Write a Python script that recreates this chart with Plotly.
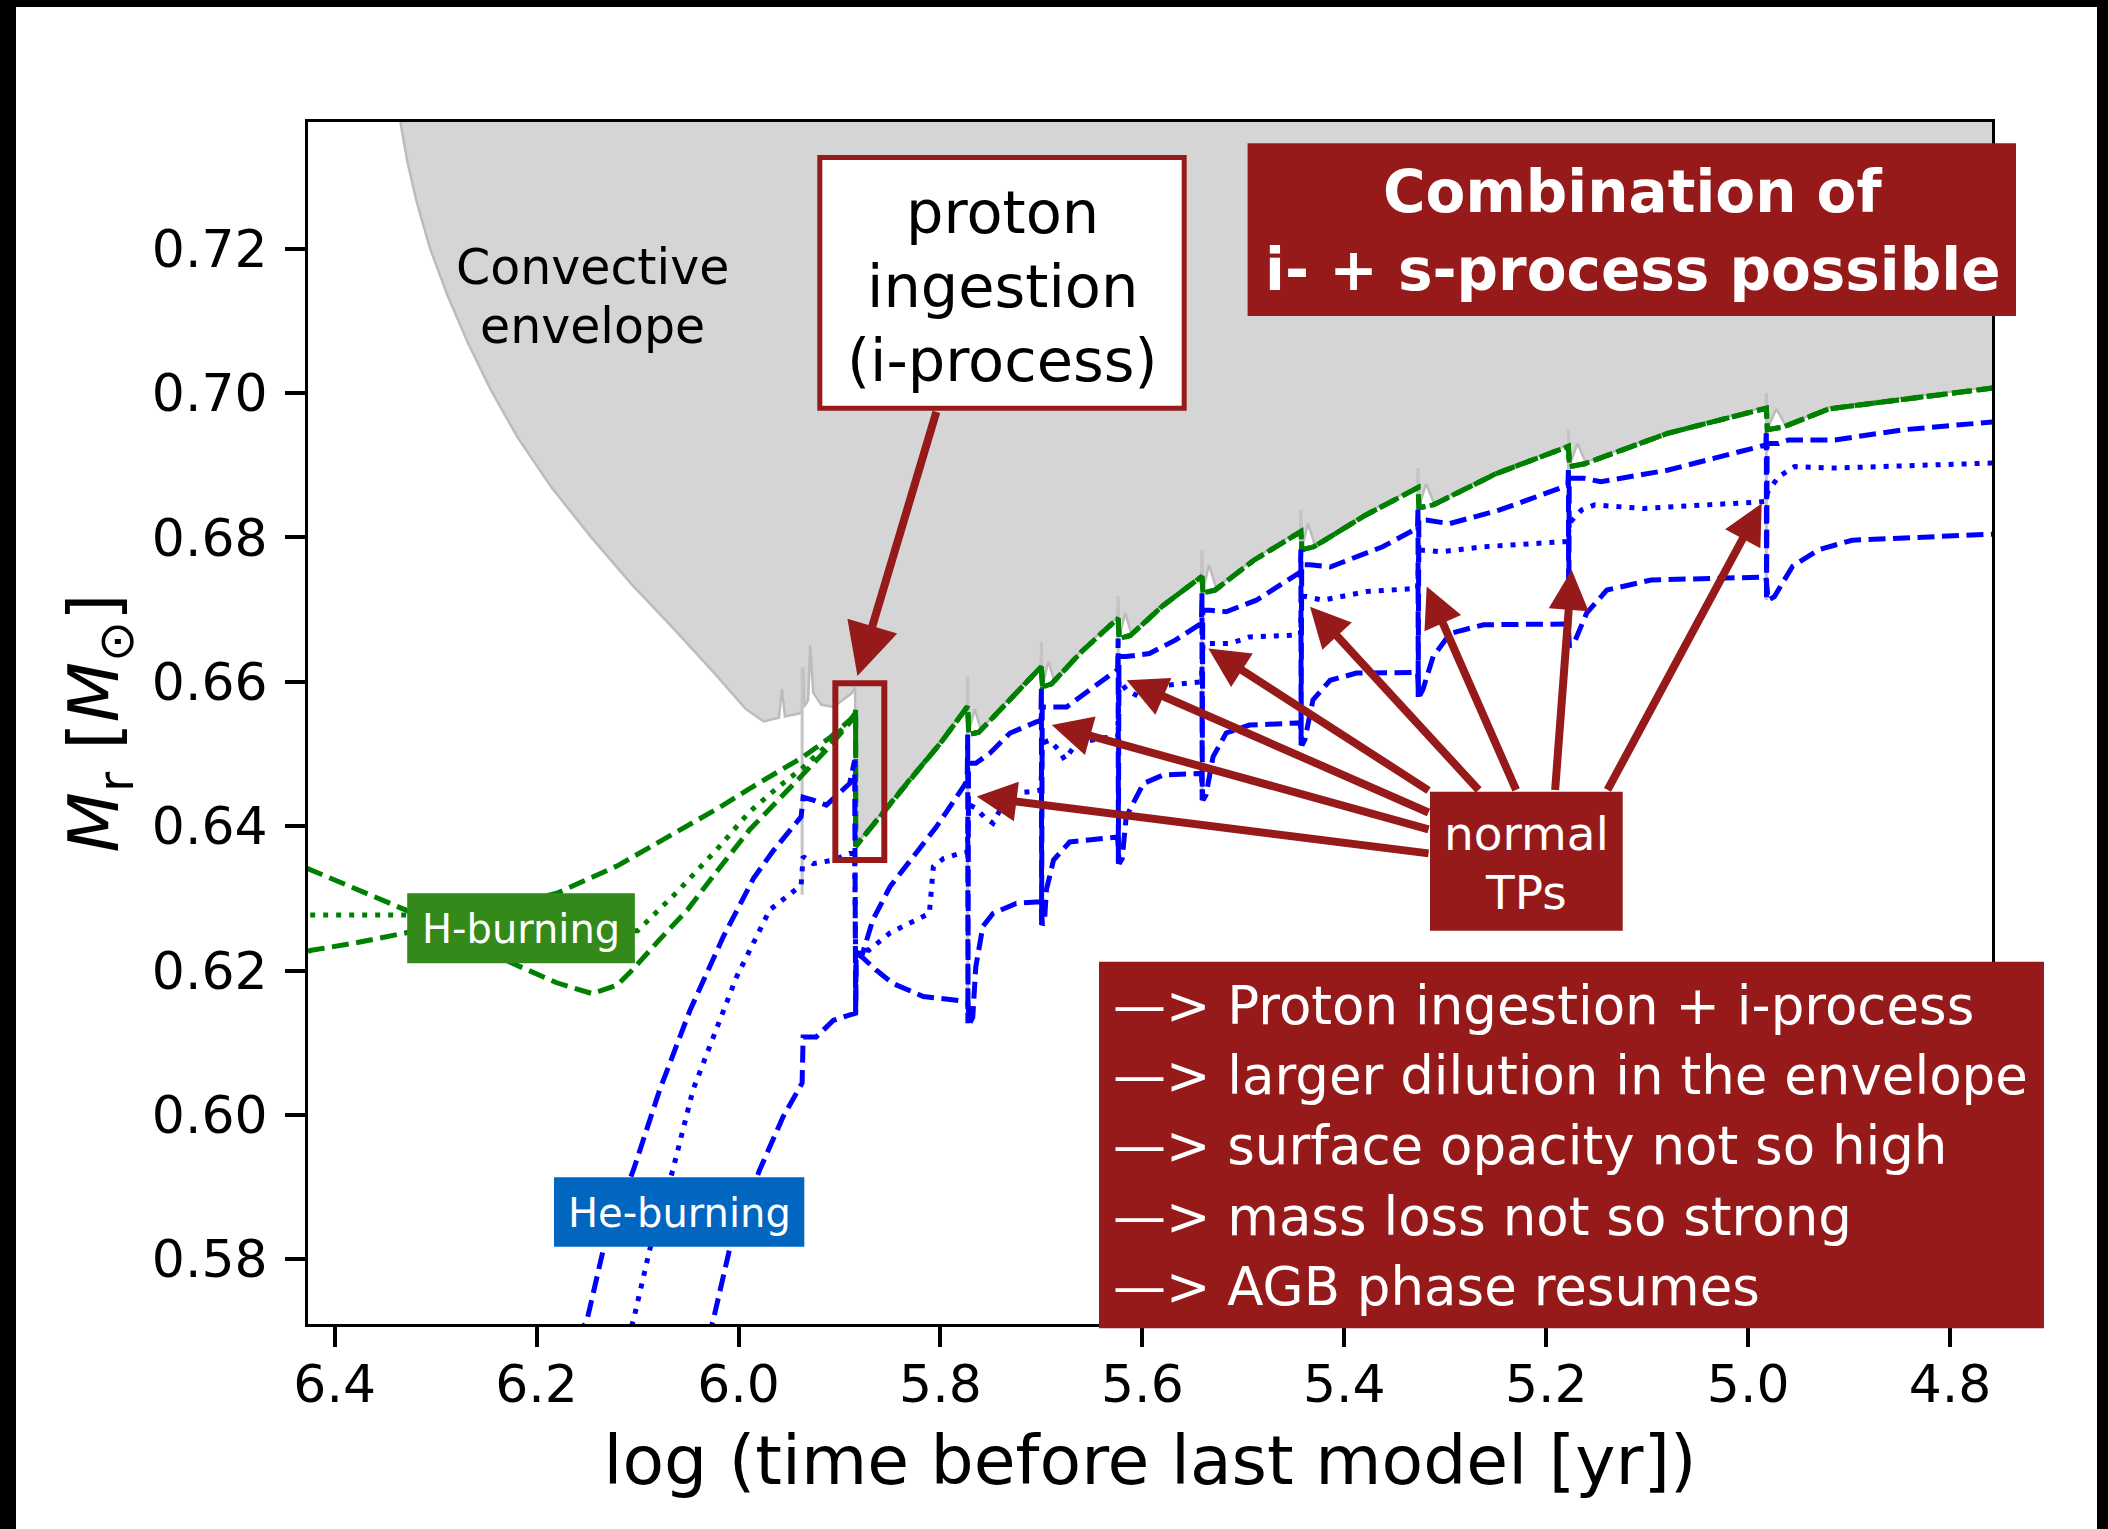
import plotly.graph_objects as go

# ---------------- data ----------------
# convective envelope lower boundary
ENV_X = [6.340, 6.3348, 6.3281, 6.3188, 6.3055, 6.2882, 6.2682, 6.2456, 6.2190, 6.1857,
         6.1458, 6.1058, 6.0659, 6.0260, 5.9927, 5.975, 5.960, 5.957, 5.954, 5.940,
         5.937, 5.936, 5.935, 5.931, 5.929, 5.926, 5.918, 5.906, 5.888, 5.8845,
         5.884, 5.830, 5.800, 5.7735, 5.773, 5.772, 5.766, 5.760, 5.730, 5.7005,
         5.700, 5.699, 5.693, 5.687, 5.660, 5.6245, 5.624, 5.623, 5.617, 5.611,
         5.580, 5.5415, 5.541, 5.540, 5.534, 5.527, 5.490, 5.4435, 5.443, 5.442,
         5.436, 5.429, 5.380, 5.3275, 5.327, 5.326, 5.319, 5.311, 5.250, 5.1785,
         5.178, 5.177, 5.169, 5.161, 5.080, 4.9825, 4.982, 4.981, 4.972, 4.963,
         4.920, 4.840, 4.757, 4.700]
ENV_Y = [0.7500, 0.7375, 0.7321, 0.7265, 0.7200, 0.7135, 0.7070, 0.7005, 0.6939, 0.6870,
         0.6800, 0.6735, 0.6676, 0.6615, 0.6562, 0.6545, 0.6550, 0.6590, 0.6552, 0.6556,
         0.6560, 0.6620, 0.6565, 0.6575, 0.6650, 0.6585, 0.6568, 0.6565, 0.6584, 0.6592,
         0.6374, 0.6467, 0.6517, 0.6568, 0.6607, 0.6530, 0.6562, 0.6534, 0.6580, 0.6623,
         0.6655, 0.6595, 0.6628, 0.6600, 0.6644, 0.6690, 0.6718, 0.6662, 0.6695, 0.6667,
         0.6707, 0.6748, 0.6782, 0.6725, 0.6762, 0.6730, 0.6770, 0.6810, 0.6838, 0.6785,
         0.6819, 0.6789, 0.6832, 0.6871, 0.6896, 0.6843, 0.6874, 0.6847, 0.6890, 0.6928,
         0.6949, 0.6900, 0.6930, 0.6904, 0.6946, 0.6981, 0.7000, 0.6951, 0.6978, 0.6955,
         0.6980, 0.6995, 0.7009, 0.7018]

# intershell convective zones at the pulses (grey vertical streaks)
PULSE_X = [5.937, 5.773, 5.700, 5.624, 5.541, 5.443, 5.327, 5.178, 4.982]
PULSE_TOP = [0.6620, 0.6607, 0.6655, 0.6718, 0.6782, 0.6838, 0.6896, 0.6949, 0.7000]
PULSE_BOT = [0.6305, 0.6127, 0.6263, 0.6348, 0.6436, 0.6512, 0.6579, 0.6649, 0.6713]

# H-burning shell (before proton ingestion, three lines)
HA_X = [6.450, 6.423, 6.380, 6.330, 6.280, 6.230, 6.180, 6.120, 6.056, 6.020,
        5.989, 5.960, 5.937, 5.910, 5.889, 5.8845, 5.884]
HA_Y = [0.6218, 0.6228, 0.6238, 0.6252, 0.6270, 0.6288, 0.6307, 0.6345, 0.6395, 0.6425,
        0.6452, 0.6475, 0.6495, 0.6522, 0.6548, 0.6556, 0.6561]
HB_X = [6.450, 6.423, 6.380, 6.330, 6.280, 6.220, 6.160, 6.100, 6.060, 6.020,
        5.989, 5.960, 5.937, 5.910, 5.889, 5.8845, 5.884]
HB_Y = [0.6277, 0.6277, 0.6277, 0.6277, 0.6272, 0.6265, 0.6258, 0.6255, 0.6310, 0.6370,
        0.6420, 0.6455, 0.6480, 0.6515, 0.6546, 0.6555, 0.6561]
HC_X = [6.450, 6.423, 6.380, 6.330, 6.280, 6.224, 6.180, 6.145, 6.120, 6.105,
        6.080, 6.050, 6.020, 5.989, 5.960, 5.937, 5.910, 5.889, 5.8845, 5.884]
HC_Y = [0.6355, 0.6339, 0.6312, 0.6284, 0.6248, 0.6210, 0.6183, 0.6168, 0.6180, 0.6201,
        0.6240, 0.6285, 0.6340, 0.6395, 0.6437, 0.6470, 0.6510, 0.6545, 0.6555, 0.6561]
# H-burning shell after proton ingestion (all three lines coincide)
HPOST_X = [5.884, 5.830, 5.800, 5.773, 5.772, 5.762, 5.730, 5.700, 5.699, 5.690,
           5.660, 5.624, 5.623, 5.612, 5.580, 5.541, 5.540, 5.528, 5.490, 5.443,
           5.442, 5.430, 5.380, 5.327, 5.326, 5.312, 5.250, 5.178, 5.177, 5.162,
           5.080, 4.982, 4.981, 4.965, 4.920, 4.840, 4.757, 4.700]
HPOST_Y = [0.6372, 0.6465, 0.6515, 0.6566, 0.6527, 0.6530, 0.6578, 0.6621, 0.6593, 0.6597,
           0.6642, 0.6688, 0.6660, 0.6664, 0.6705, 0.6746, 0.6723, 0.6727, 0.6768, 0.6808,
           0.6783, 0.6787, 0.6830, 0.6869, 0.6841, 0.6845, 0.6888, 0.6926, 0.6898, 0.6902,
           0.6944, 0.6979, 0.6949, 0.6953, 0.6978, 0.6993, 0.7007, 0.7015]

# He-burning shell (three lines)
HE_TOP_X = [6.160, 6.150, 6.134, 6.104, 6.078, 6.048, 6.015, 5.985, 5.966, 5.938,
            5.936, 5.926, 5.913, 5.890, 5.885, 5.884, 5.8835, 5.877, 5.867, 5.850,
            5.830, 5.804, 5.777, 5.7735, 5.773, 5.7728, 5.7722, 5.765, 5.751, 5.731,
            5.711, 5.7005, 5.700, 5.6998, 5.6992, 5.695, 5.675, 5.652, 5.629, 5.6245,
            5.624, 5.6238, 5.6232, 5.616, 5.593, 5.567, 5.547, 5.5415, 5.541, 5.5408,
            5.5402, 5.533, 5.517, 5.487, 5.447, 5.4435, 5.443, 5.4428, 5.4422, 5.434,
            5.414, 5.362, 5.333, 5.3275, 5.327, 5.3268, 5.3262, 5.319, 5.296, 5.246,
            5.183, 5.1785, 5.178, 5.1778, 5.1772, 5.163, 5.146, 5.080, 4.987, 4.9825,
            4.982, 4.9818, 4.9812, 4.970, 4.960, 4.914, 4.847, 4.757, 4.700]
HE_TOP_Y = [0.5690, 0.5716, 0.5813, 0.5924, 0.6035, 0.6145, 0.6247, 0.6328, 0.6365, 0.6413,
            0.6440, 0.6436, 0.6429, 0.6459, 0.6491, 0.6141, 0.6224, 0.6224, 0.6270, 0.6316,
            0.6353, 0.6399, 0.6455, 0.6464, 0.6527, 0.6127, 0.6487, 0.6487, 0.6501, 0.6529,
            0.6542, 0.6547, 0.6593, 0.6263, 0.6565, 0.6565, 0.6565, 0.6589, 0.6612, 0.6617,
            0.6660, 0.6348, 0.6635, 0.6635, 0.6639, 0.6658, 0.6676, 0.6681, 0.6723, 0.6436,
            0.6699, 0.6699, 0.6697, 0.6713, 0.6750, 0.6752, 0.6783, 0.6512, 0.6762, 0.6762,
            0.6759, 0.6787, 0.6810, 0.6813, 0.6841, 0.6579, 0.6824, 0.6824, 0.6819, 0.6838,
            0.6870, 0.6872, 0.6898, 0.6649, 0.6882, 0.6882, 0.6877, 0.6893, 0.6926, 0.6928,
            0.6949, 0.6713, 0.6930, 0.6930, 0.6935, 0.6935, 0.6949, 0.6960, 0.6966]
HE_MID_X = [6.110, 6.104, 6.088, 6.065, 6.045, 6.025, 6.002, 5.969, 5.949, 5.938,
            5.936, 5.926, 5.906, 5.890, 5.885, 5.884, 5.879, 5.871, 5.850, 5.811,
            5.807, 5.797, 5.781, 5.7735, 5.772, 5.765, 5.757, 5.748, 5.740, 5.731,
            5.708, 5.7005, 5.699, 5.692, 5.682, 5.677, 5.665, 5.640, 5.6245, 5.623,
            5.616, 5.603, 5.576, 5.547, 5.5415, 5.540, 5.533, 5.513, 5.494, 5.447,
            5.4435, 5.442, 5.438, 5.421, 5.378, 5.332, 5.3275, 5.326, 5.319, 5.305,
            5.262, 5.183, 5.1785, 5.177, 5.165, 5.152, 5.104, 4.990, 4.9825, 4.981,
            4.970, 4.954, 4.914, 4.757, 4.700]
HE_MID_Y = [0.5690, 0.5716, 0.5813, 0.5924, 0.6035, 0.6108, 0.6191, 0.6284, 0.6307, 0.6318,
            0.6358, 0.6348, 0.6353, 0.6362, 0.6362, 0.6224, 0.6230, 0.6228, 0.6252, 0.6279,
            0.6344, 0.6355, 0.6362, 0.6364, 0.6430, 0.6425, 0.6413, 0.6404, 0.6425, 0.6445,
            0.6448, 0.6450, 0.6515, 0.6519, 0.6504, 0.6492, 0.6515, 0.6522, 0.6524, 0.6602,
            0.6589, 0.6579, 0.6595, 0.6598, 0.6600, 0.6653, 0.6653, 0.6653, 0.6662, 0.6665,
            0.6665, 0.6718, 0.6718, 0.6713, 0.6725, 0.6729, 0.6729, 0.6782, 0.6782, 0.6780,
            0.6787, 0.6794, 0.6794, 0.6820, 0.6838, 0.6845, 0.6840, 0.6849, 0.6850, 0.6862,
            0.6884, 0.6898, 0.6896, 0.6903, 0.6904]
HE_BOT_X = [6.030, 6.025, 6.009, 5.979, 5.956, 5.937, 5.936, 5.923, 5.906, 5.886,
            5.884, 5.8835, 5.878, 5.864, 5.847, 5.817, 5.777, 5.773, 5.771, 5.768,
            5.765, 5.758, 5.748, 5.725, 5.705, 5.7005, 5.699, 5.697, 5.695, 5.688,
            5.672, 5.632, 5.6245, 5.623, 5.620, 5.616, 5.599, 5.579, 5.543, 5.5415,
            5.540, 5.537, 5.530, 5.517, 5.494, 5.447, 5.4435, 5.442, 5.439, 5.431,
            5.414, 5.388, 5.329, 5.3275, 5.326, 5.322, 5.312, 5.295, 5.262, 5.180,
            5.1785, 5.177, 5.172, 5.160, 5.140, 5.096, 4.983, 4.9825, 4.980, 4.974,
            4.956, 4.930, 4.897, 4.757, 4.700]
HE_BOT_Y = [0.5690, 0.5716, 0.5813, 0.5924, 0.5997, 0.6044, 0.6108, 0.6108, 0.6131, 0.6141,
            0.6141, 0.6224, 0.6219, 0.6201, 0.6182, 0.6164, 0.6157, 0.6157, 0.6127, 0.6135,
            0.6205, 0.6261, 0.6279, 0.6293, 0.6295, 0.6295, 0.6263, 0.6268, 0.6312, 0.6353,
            0.6378, 0.6385, 0.6385, 0.6348, 0.6355, 0.6413, 0.6459, 0.6471, 0.6473, 0.6473,
            0.6436, 0.6443, 0.6496, 0.6529, 0.6540, 0.6543, 0.6543, 0.6512, 0.6520, 0.6575,
            0.6602, 0.6612, 0.6613, 0.6613, 0.6579, 0.6590, 0.6635, 0.6667, 0.6679, 0.6680,
            0.6680, 0.6649, 0.6655, 0.6695, 0.6727, 0.6741, 0.6745, 0.6745, 0.6713, 0.6718,
            0.6760, 0.6783, 0.6796, 0.6806, 0.6808]

X_TICKS = [6.4, 6.2, 6.0, 5.8, 5.6, 5.4, 5.2, 5.0, 4.8]
Y_TICKS = [0.58, 0.60, 0.62, 0.64, 0.66, 0.68, 0.70, 0.72]

# "normal TPs" arrows: tips at the pulses, tails at the label box
TP_ARROW_TIP_X = [5.7641, 5.6898, 5.6155, 5.5347, 5.4340, 5.3184, 5.1748, 4.9866]
TP_ARROW_TIP_Y = [0.6441, 0.6540, 0.6602, 0.6646, 0.6704, 0.6732, 0.6755, 0.6847]
TP_ARROW_TAIL_X = [5.3151, 5.3151, 5.3151, 5.3151, 5.2656, 5.2292, 5.1913, 5.1401]
TP_ARROW_TAIL_Y = [0.6362, 0.6395, 0.6418, 0.6448, 0.6448, 0.6448, 0.6448, 0.6448]

# ---------------- styling ----------------
W, H = 2108, 1529
ML, MR, MT, MB = 308, 116, 122, 205
PW, PH = W - ML - MR, H - MT - MB
FONT = "DejaVu Sans"
RED = "#971a1b"
GREEN = "#008000"
BLUE = "#0000ff"
DASH = "17px,7.5px"
DOT = "5px,8px"
LW = 5


def px(X):
    return (X - ML) / PW


def py(Y):
    return (MT + PH - Y) / PH


fig = go.Figure()

# convective envelope (filled)
fig.add_trace(go.Scatter(
    x=ENV_X + [4.70, 6.34], y=ENV_Y + [0.75, 0.75],
    fill="toself", fillcolor="#d5d5d5", mode="lines",
    line=dict(width=0, color="#d5d5d5"), hoverinfo="skip", showlegend=False))
fig.add_trace(go.Scatter(
    x=ENV_X, y=ENV_Y, mode="lines",
    line=dict(width=2.5, color="#bcbcbc"), hoverinfo="skip", showlegend=False))

# pulse convective zones
px_list, py_list = [], []
for xv, t, b in zip(PULSE_X, PULSE_TOP, PULSE_BOT):
    px_list += [xv, xv, None]
    py_list += [t, b, None]
fig.add_trace(go.Scatter(x=px_list, y=py_list, mode="lines",
                         line=dict(width=3, color="#c4c4c4"),
                         hoverinfo="skip", showlegend=False))

# H-burning lines
for xs, ys, d in [(HA_X, HA_Y, DASH), (HB_X, HB_Y, DOT), (HC_X, HC_Y, DASH)]:
    fig.add_trace(go.Scatter(x=xs + HPOST_X, y=ys + HPOST_Y, mode="lines",
                             line=dict(width=LW, color=GREEN, dash=d),
                             hoverinfo="skip", showlegend=False))

# He-burning lines
for xs, ys, d in [(HE_TOP_X, HE_TOP_Y, DASH), (HE_MID_X, HE_MID_Y, DOT),
                  (HE_BOT_X, HE_BOT_Y, DASH)]:
    fig.add_trace(go.Scatter(x=xs, y=ys, mode="lines",
                             line=dict(width=LW, color=BLUE, dash=d),
                             hoverinfo="skip", showlegend=False))

shapes = []
annotations = []


def box(x0, y0, x1, y1, fill, line_color=None, line_width=0):
    shapes.append(dict(type="rect", xref="paper", yref="paper",
                       x0=px(x0), x1=px(x1), y0=py(y1), y1=py(y0),
                       fillcolor=fill, layer="above",
                       line=dict(width=line_width, color=line_color or fill)))


def text(X, Y, s, size, color="black", bold=False, anchor="center"):
    if bold:
        s = "<b>" + s + "</b>"
    annotations.append(dict(xref="paper", yref="paper", x=px(X), y=py(Y),
                            text=s, showarrow=False, xanchor=anchor,
                            yanchor="middle",
                            font=dict(family=FONT, size=size, color=color)))


# black frame around the picture
box(0, 0, W, 7, "black")
box(0, 0, 16, H, "black")
box(2097, 0, W, H, "black")

# ingestion marker rectangle (data coordinates)
shapes.append(dict(type="rect", xref="x", yref="y", x0=5.9041, x1=5.8556,
                   y0=0.6353, y1=0.6598, layer="above",
                   line=dict(width=6, color=RED), fillcolor="rgba(0,0,0,0)"))

# proton ingestion box
box(819.8, 157.5, 1184.2, 408.2, "white", RED, 5)
text(1002, 212, "proton", 59)
text(1002, 286, "ingestion", 59)
text(1002, 360, "(i-process)", 59)

# combination box
box(1247.6, 143.3, 2016, 316, RED)
text(1632, 192, "Combination of", 58, "white", True)
text(1632, 270, "i- + s-process possible", 58, "white", True)

# normal TPs box
box(1430, 791.7, 1622.7, 930.7, RED)
text(1526, 834, "normal", 47, "white")
text(1526, 892, "TPs", 47, "white")

# H / He burning labels
box(407.2, 893.3, 634.9, 963.3, "#338a1a")
text(521, 929, "H-burning", 40, "white")
box(554, 1177.3, 804.3, 1246.7, "#0066c0")
text(679, 1213, "He-burning", 40, "white")

# convective envelope label
text(592.7, 267, "Convective", 49)
text(592.7, 327, "envelope", 49)

# lower-right summary box
box(1099, 961.7, 2044, 1328.3, RED)
LINES = ["—> Proton ingestion + i-process",
         "—> larger dilution in the envelope",
         "—> surface opacity not so high",
         "—> mass loss not so strong",
         "—> AGB phase resumes"]
for i, s in enumerate(LINES):
    text(1111, 1005 + 70.4 * i, s, 53, "white", anchor="left")

# arrows
annotations.append(dict(x=5.8822, y=0.6608, ax=5.8036, ay=0.6976,
                        xref="x", yref="y", axref="x", ayref="y",
                        text="", showarrow=True, arrowhead=2, arrowsize=1.3,
                        arrowwidth=8, arrowcolor=RED, standoff=0))
for tx, ty, sx, sy in zip(TP_ARROW_TIP_X, TP_ARROW_TIP_Y,
                          TP_ARROW_TAIL_X, TP_ARROW_TAIL_Y):
    annotations.append(dict(x=tx, y=ty, ax=sx, ay=sy,
                            xref="x", yref="y", axref="x", ayref="y",
                            text="", showarrow=True, arrowhead=2, arrowsize=1.0,
                            arrowwidth=8, arrowcolor=RED, standoff=0))

axis_common = dict(showline=True, linewidth=3, linecolor="black", mirror=True,
                   ticks="outside", ticklen=20, tickwidth=4, tickcolor="black",
                   showgrid=False, zeroline=False,
                   tickfont=dict(family=FONT, size=52, color="black"))

fig.update_layout(
    width=W, height=H, autosize=False,
    margin=dict(l=ML, r=MR, t=MT, b=MB, pad=0),
    paper_bgcolor="white", plot_bgcolor="white",
    font=dict(family=FONT, color="black"),
    showlegend=False,
    xaxis=dict(range=[6.4264, 4.7585], tickvals=X_TICKS,
               ticktext=["%.1f" % v for v in X_TICKS],
               title=dict(text="log (time before last model [yr])",
                          font=dict(family=FONT, size=68), standoff=23),
               ticklabelstandoff=-7, **axis_common),
    yaxis=dict(range=[0.57103, 0.73754], tickvals=Y_TICKS,
               ticktext=["%.2f" % v for v in Y_TICKS],
               title=dict(text="<i>M</i><sub>r</sub> [<i>M</i><sub>⊙</sub>]",
                          font=dict(family=FONT, size=70), standoff=11),
               ticklabelstandoff=7, **axis_common),
    shapes=shapes, annotations=annotations,
)

fig.write_html("out.html")
